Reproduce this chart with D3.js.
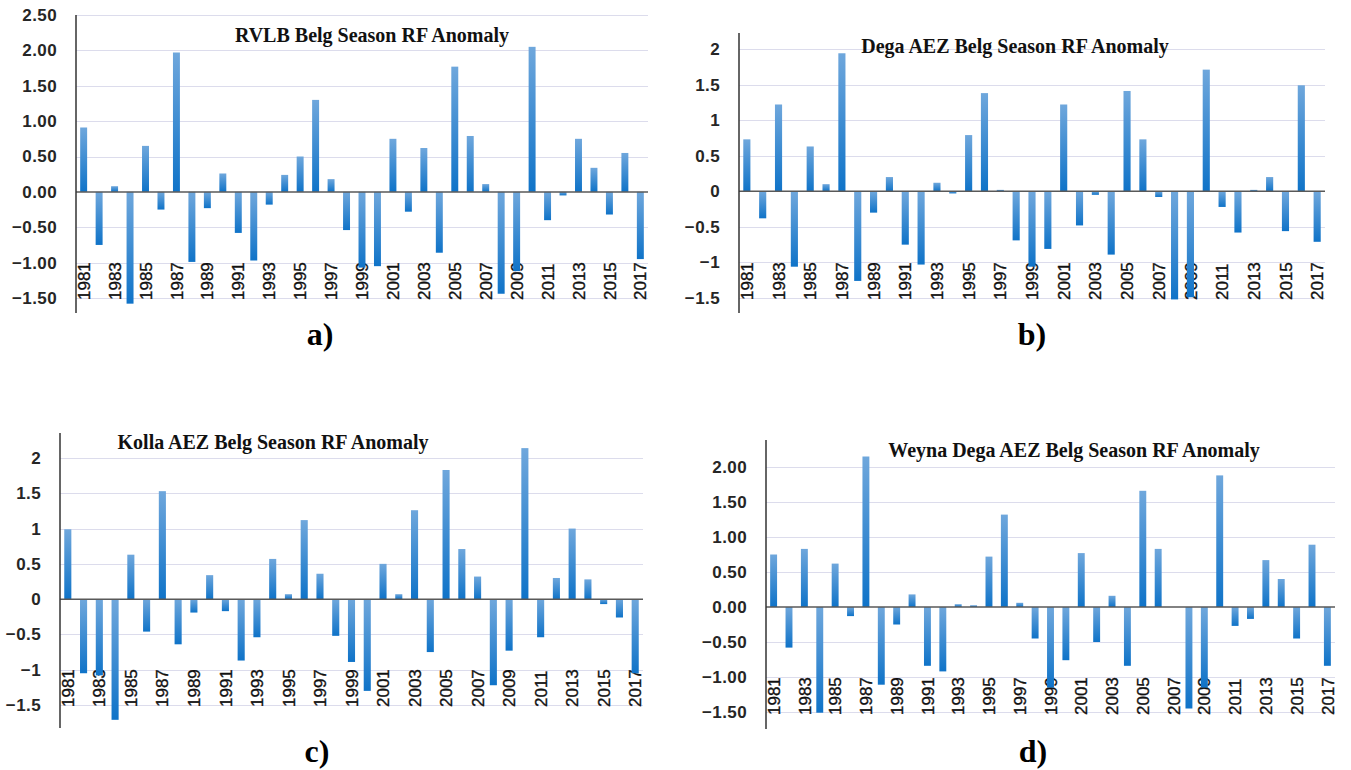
<!DOCTYPE html>
<html>
<head>
<meta charset="utf-8">
<script src="https://cdn.jsdelivr.net/npm/d3@7"></script>
<style>
  body { margin: 0; background: #fff; }
  svg { display: block; }
</style>
</head>
<body>
<svg id="chart" width="1351" height="770"></svg>
<script>
// Belg season rainfall anomaly, 1981-2017
var years = d3.range(1981, 2018);

var rvlbValues = [0.91, -0.75, 0.08, -1.58, 0.65, -0.25, 1.97, -0.99, -0.23, 0.26,
  -0.58, -0.97, -0.18, 0.24, 0.50, 1.30, 0.18, -0.54, -1.07, -1.05,
  0.75, -0.28, 0.62, -0.86, 1.77, 0.79, 0.11, -1.44, -1.12, 2.05,
  -0.40, -0.05, 0.75, 0.34, -0.32, 0.55, -0.95];

var degaValues = [0.73, -0.38, 1.22, -1.06, 0.63, 0.10, 1.94, -1.26, -0.30, 0.20,
  -0.75, -1.03, 0.12, -0.03, 0.79, 1.38, 0.02, -0.69, -1.06, -0.81,
  1.22, -0.48, -0.05, -0.89, 1.41, 0.73, -0.08, -1.52, -1.49, 1.71,
  -0.22, -0.58, 0.02, 0.20, -0.56, 1.49, -0.71];

var kollaValues = [0.99, -1.05, -1.08, -1.71, 0.63, -0.46, 1.53, -0.64, -0.19, 0.34,
  -0.17, -0.87, -0.54, 0.57, 0.07, 1.12, 0.36, -0.52, -0.89, -1.30,
  0.50, 0.07, 1.26, -0.75, 1.83, 0.71, 0.32, -1.22, -0.73, 2.14,
  -0.54, 0.30, 1.00, 0.28, -0.07, -0.26, -1.05];

var weynaValues = [0.75, -0.58, 0.83, -1.51, 0.62, -0.13, 2.15, -1.11, -0.25, 0.18,
  -0.84, -0.92, 0.04, 0.025, 0.72, 1.32, 0.06, -0.45, -1.15, -0.76,
  0.77, -0.50, 0.16, -0.84, 1.66, 0.83, 0, -1.45, -1.15, 1.88,
  -0.27, -0.17, 0.67, 0.40, -0.45, 0.89, -0.84];

var ticksA = [2.5, 2, 1.5, 1, 0.5, 0, -0.5, -1, -1.5];
var ticksBCD = [2, 1.5, 1, 0.5, 0, -0.5, -1, -1.5];

var titles = ["RVLB Belg Season RF Anomaly", "Dega AEZ Belg Season RF Anomaly",
  "Kolla AEZ Belg Season RF Anomaly", "Weyna Dega AEZ Belg Season RF Anomaly"];
var panelLetters = ["a)", "b)", "c)", "d)"];

function main() {
  var svg = d3.select("#chart");

  var defs = svg.append("defs");
  var grad = defs.append("linearGradient")
    .attr("id", "barFill")
    .attr("x1", 0).attr("y1", 0).attr("x2", 0).attr("y2", 1);
  grad.append("stop").attr("offset", "0%").attr("stop-color", "#6fa7dc");
  grad.append("stop").attr("offset", "100%").attr("stop-color", "#0f73c8");

  // layout of the four panels
  var panels = [
    { values: rvlbValues, ticks: ticksA, fmt: d3.format(".2f"),
      x0: 76, x1: 648, yTop: 2.5, yTopPx: 15, yBotPx: 298, axisTop: 15, axisBot: 313,
      labelBot: 300, titleX: 372, titleY: 42, letterX: 320, letterY: 345 },
    { values: degaValues, ticks: ticksBCD, fmt: d => d3.format("")(d),
      x0: 739, x1: 1325, yTop: 2, yTopPx: 49, yBotPx: 298, axisTop: 33, axisBot: 313,
      labelBot: 300, titleX: 1015, titleY: 53, letterX: 1032, letterY: 345 },
    { values: kollaValues, ticks: ticksBCD, fmt: d => d3.format("")(d),
      x0: 60, x1: 643, yTop: 2, yTopPx: 458, yBotPx: 705, axisTop: 433, axisBot: 728,
      labelBot: 707, titleX: 273, titleY: 449, letterX: 317, letterY: 762 },
    { values: weynaValues, ticks: ticksBCD, fmt: d3.format(".2f"),
      x0: 766, x1: 1335, yTop: 2, yTopPx: 467, yBotPx: 712, axisTop: 440, axisBot: 729,
      labelBot: 715, titleX: 1074, titleY: 457, letterX: 1033, letterY: 762 }
  ];

  panels.forEach(function(p, i) {
    drawPanel(svg, p, titles[i], panelLetters[i]);
  });
}

function drawPanel(svg, p, title, letter) {
  var g = svg.append("g");

  var x = d3.scaleBand()
    .domain(years)
    .range([p.x0, p.x1])
    .paddingInner(0.55)
    .paddingOuter(0.27);
  var y = d3.scaleLinear()
    .domain([-1.5, p.yTop])
    .range([p.yBotPx, p.yTopPx]);

  // gridlines
  g.selectAll("line.grid")
    .data(p.ticks.filter(d => d !== 0))
    .enter().append("line")
    .attr("class", "grid")
    .attr("x1", p.x0).attr("x2", p.x1)
    .attr("y1", d => Math.round(y(d)) + 0.5).attr("y2", d => Math.round(y(d)) + 0.5)
    .attr("stroke", "#dcdcec")
    .attr("stroke-width", 1.2);

  // y tick labels
  var yAxis = d3.axisLeft(y)
    .tickValues(p.ticks)
    .tickFormat(p.fmt)
    .tickSize(0)
    .tickPadding(19);
  var ya = g.append("g")
    .attr("transform", "translate(" + p.x0 + ",0)")
    .call(yAxis);
  ya.select(".domain").remove();
  ya.selectAll("text")
    .attr("font-family", "'Liberation Sans', Arial, sans-serif")
    .attr("font-size", 17)
    .attr("font-weight", "bold")
    .attr("letter-spacing", 0.4)
    .attr("fill", "#262626");

  // year labels, every other year, low position
  g.selectAll("text.year")
    .data(years.filter(d => d % 2 === 1))
    .enter().append("text")
    .attr("class", "year")
    .attr("transform", d => "translate(" + (x(d) + x.bandwidth() / 2) + "," + p.labelBot + ") rotate(-90)")
    .attr("dy", "0.36em")
    .attr("font-family", "'Liberation Sans', Arial, sans-serif")
    .attr("font-size", 17)
    .attr("fill", "#111")
    .attr("stroke", "#111")
    .attr("stroke-width", 0.35)
    .text(d => d);

  // bars
  g.selectAll("rect.bar")
    .data(p.values)
    .enter().append("rect")
    .attr("class", "bar")
    .attr("x", (d, i) => x(years[i]))
    .attr("width", x.bandwidth())
    .attr("y", d => Math.min(y(0), y(d)))
    .attr("height", d => Math.abs(y(d) - y(0)))
    .attr("fill", "url(#barFill)");

  // zero line
  g.append("line")
    .attr("x1", p.x0).attr("x2", p.x1)
    .attr("y1", y(0)).attr("y2", y(0))
    .attr("stroke", "#595959")
    .attr("stroke-width", 1.5);

  // vertical axis line
  g.append("line")
    .attr("x1", p.x0).attr("x2", p.x0)
    .attr("y1", p.axisTop).attr("y2", p.axisBot)
    .attr("stroke", "#333")
    .attr("stroke-width", 1.5);

  g.append("text")
    .attr("x", p.titleX).attr("y", p.titleY)
    .attr("text-anchor", "middle")
    .attr("font-family", "'Liberation Serif', 'Times New Roman', serif")
    .attr("font-size", 20)
    .attr("font-weight", "bold")
    .attr("fill", "#111")
    .text(title);

  g.append("text")
    .attr("x", p.letterX).attr("y", p.letterY)
    .attr("text-anchor", "middle")
    .attr("font-family", "'Liberation Serif', 'Times New Roman', serif")
    .attr("font-size", 32)
    .attr("font-weight", "bold")
    .attr("fill", "#000")
    .text(letter);
}

main();
</script>
</body>
</html>
